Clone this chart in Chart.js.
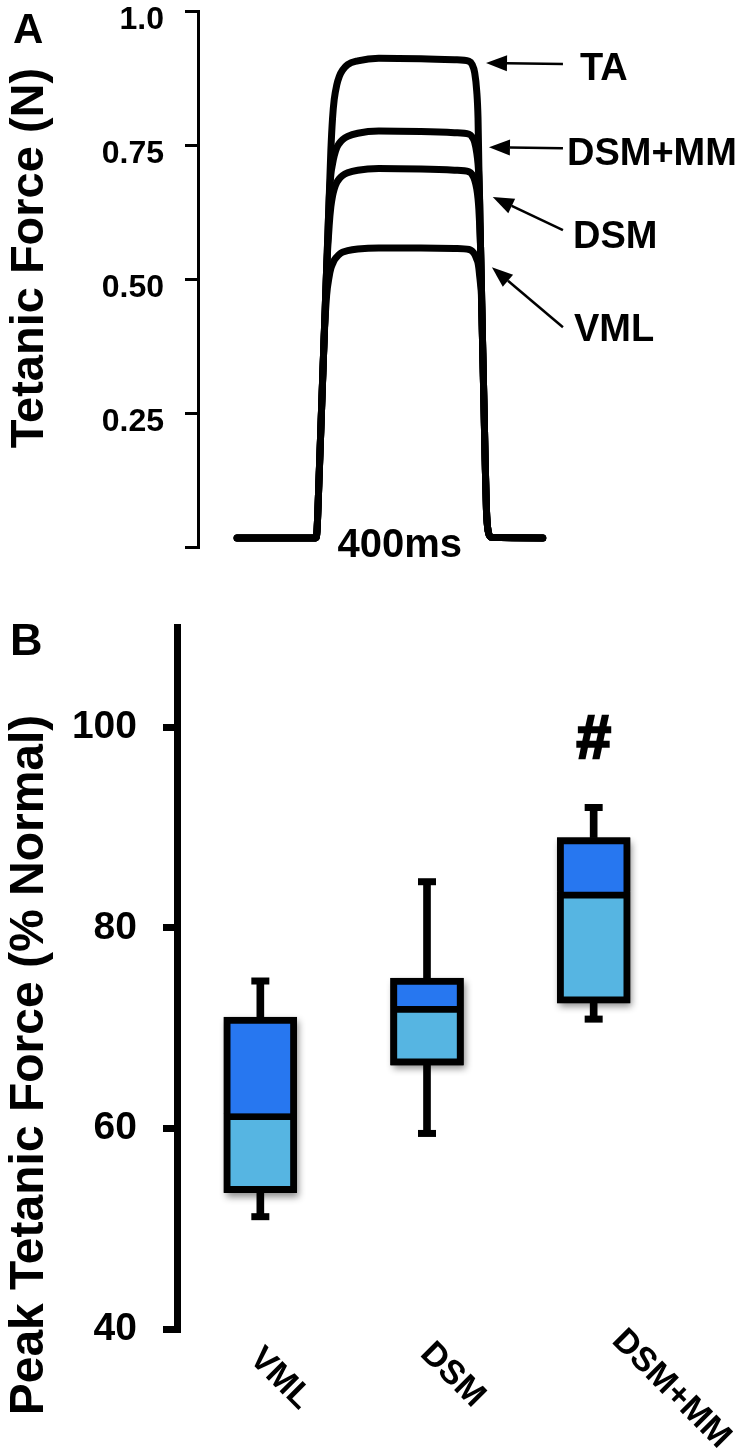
<!DOCTYPE html>
<html>
<head>
<meta charset="utf-8">
<title>Tetanic force</title>
<script src="https://cdn.jsdelivr.net/npm/chart.js@4.4.1/dist/chart.umd.min.js"></script>
<style>
  html, body { margin: 0; padding: 0; background: #fff; }
  #page { position: relative; width: 750px; height: 1456px; overflow: hidden; }
  canvas { position: absolute; left: 0; }
  #chart-traces { top: 0; }
  #chart-peak { top: 580px; }
</style>
</head>
<body>
<div id="page">
  <canvas id="chart-traces" width="750" height="580"></canvas>
  <canvas id="chart-peak" width="750" height="876"></canvas>
</div>
<script>
const FONT = "'Liberation Sans', Arial, Helvetica, sans-serif";
const bold = size => `bold ${size}px ${FONT}`;

// ---- Panel A: force traces (time in ms, force in N) ----
const traceTimes = [-187, 0, 3, 8, 14, 20, 26, 32, 36, 40, 44, 50, 56, 64, 76, 100, 150, 250, 330, 365,
  372, 378, 383, 386, 388, 390, 392, 394, 396, 398, 400, 403, 406, 410, 418, 540];
const forceTA = [0.017, 0.017, 0.03, 0.13, 0.26, 0.39, 0.52, 0.65, 0.74, 0.80, 0.835, 0.862, 0.878, 0.89, 0.90, 0.907, 0.912, 0.911, 0.909, 0.906,
  0.90, 0.885, 0.85, 0.80, 0.71, 0.64, 0.56, 0.49, 0.41, 0.34, 0.27, 0.16, 0.07, 0.03, 0.018, 0.017];
const forceDSMMM = [0.017, 0.017, 0.03, 0.13, 0.26, 0.39, 0.52, 0.65, 0.695, 0.715, 0.73, 0.745, 0.753, 0.76, 0.766, 0.772, 0.776, 0.775, 0.773, 0.77,
  0.765, 0.755, 0.735, 0.715, 0.69, 0.64, 0.56, 0.49, 0.41, 0.34, 0.27, 0.16, 0.07, 0.03, 0.018, 0.017];
const forceDSM = [0.017, 0.017, 0.03, 0.13, 0.26, 0.39, 0.52, 0.60, 0.635, 0.655, 0.668, 0.68, 0.687, 0.693, 0.698, 0.703, 0.706, 0.705, 0.703, 0.70,
  0.695, 0.685, 0.668, 0.65, 0.63, 0.60, 0.56, 0.49, 0.41, 0.34, 0.27, 0.16, 0.07, 0.03, 0.018, 0.017];
const forceVML = [0.017, 0.017, 0.03, 0.13, 0.26, 0.39, 0.47, 0.505, 0.52, 0.528, 0.535, 0.541, 0.546, 0.55, 0.553, 0.556, 0.558, 0.558, 0.557, 0.555,
  0.552, 0.546, 0.537, 0.53, 0.52, 0.505, 0.49, 0.47, 0.41, 0.34, 0.27, 0.16, 0.07, 0.03, 0.018, 0.017];
const traceNames = ["TA", "DSM+MM", "DSM", "VML"];
const forceTicks = [0, 0.25, 0.5, 0.75, 1.0];
const forceTickLabels = ["", "0.25", "0.50", "0.75", "1.0"];
const stimLabel = "400ms";
const stimMid = 200;

// ---- Panel B: peak tetanic force (% of normal) ----
const groups = ["VML", "DSM", "DSM+MM"];
const whiskerLow = [51.2, 59.5, 70.9];
const quartile1 = [53.6, 66.3, 72.5];
const medians = [61.5, 72.2, 83.6];
const quartile3 = [71.1, 75.0, 89.0];
const whiskerHigh = [74.7, 84.6, 92.0];
const peakTicks = [40, 60, 80, 100];
const sigMark = "#";
const sigGroup = 2;
const sigLevel = 99.1;

const DARK_BLUE = "#2777f0";
const LIGHT_BLUE = "#56b5e2";

Chart.defaults.font.family = FONT;
Chart.defaults.font.weight = "bold";
Chart.defaults.color = "#000";

// arrows pointing at the traces, in data units
const arrowNotes = [
  { tip: [405, 0.903], tail: [588, 0.901], dx: 17, dy: 16 },
  { tip: [412, 0.746], tail: [588, 0.744], dx: 4, dy: 17 },
  { tip: [421, 0.653], tail: [588, 0.591], dx: 10, dy: 18 },
  { tip: [419, 0.522], tail: [588, 0.41], dx: 11, dy: 14 }
];

const traceNotes = {
  id: "traceNotes",
  afterDraw(chart) {
    const { ctx, scales: { x, y } } = chart;
    ctx.save();
    ctx.fillStyle = "#000";
    ctx.strokeStyle = "#000";
    ctx.textBaseline = "alphabetic";

    ctx.font = bold(42);
    ctx.textAlign = "left";
    ctx.fillText("A", 13, 43);

    ctx.save();
    ctx.translate(43, 258);
    ctx.rotate(-Math.PI / 2);
    ctx.font = bold(47);
    ctx.textAlign = "center";
    ctx.fillText("Tetanic Force (N)", 0, 0);
    ctx.restore();

    ctx.font = bold(40);
    ctx.textAlign = "center";
    ctx.fillText(stimLabel, x.getPixelForValue(stimMid), y.getPixelForValue(0) + 10);

    ctx.textAlign = "left";
    ctx.font = bold(38);
    arrowNotes.forEach((n, i) => {
      const tx = x.getPixelForValue(n.tip[0]), ty = y.getPixelForValue(n.tip[1]);
      const sx = x.getPixelForValue(n.tail[0]), sy = y.getPixelForValue(n.tail[1]);
      const ang = Math.atan2(ty - sy, tx - sx);
      const bx = tx - 21 * Math.cos(ang), by = ty - 21 * Math.sin(ang);
      ctx.lineWidth = 2.5;
      ctx.beginPath();
      ctx.moveTo(sx, sy);
      ctx.lineTo(bx, by);
      ctx.stroke();
      ctx.beginPath();
      ctx.moveTo(tx, ty);
      ctx.lineTo(bx + 8 * Math.sin(ang), by - 8 * Math.cos(ang));
      ctx.lineTo(bx - 8 * Math.sin(ang), by + 8 * Math.cos(ang));
      ctx.closePath();
      ctx.fill();
      ctx.fillText(traceNames[i], sx + n.dx, sy + n.dy);
    });
    ctx.restore();
  }
};

const traceSeries = [forceTA, forceDSMMM, forceDSM, forceVML];

new Chart(document.getElementById("chart-traces"), {
  type: "line",
  data: {
    datasets: traceSeries.map((vals, i) => ({
      label: traceNames[i],
      data: traceTimes.map((t, k) => ({ x: t, y: vals[k] })),
      borderColor: "#000",
      backgroundColor: "#000",
      borderWidth: 7,
      pointRadius: 0,
      cubicInterpolationMode: "monotone",
      borderCapStyle: "round"
    }))
  },
  options: {
    responsive: false,
    animation: false,
    events: [],
    layout: { padding: { top: 11, right: 182, bottom: 33, left: 0 } },
    plugins: { legend: { display: false }, tooltip: { enabled: false } },
    scales: {
      x: { type: "linear", min: -280, max: 600, display: false },
      y: {
        min: 0,
        max: 1,
        afterBuildTicks: s => { s.ticks = forceTicks.map(v => ({ value: v })); },
        afterFit: s => { s.width = 198; s.paddingTop = 0; s.paddingBottom = 0; },
        ticks: {
          color: "#000",
          padding: 21,
          font: { size: 32, weight: "bold", lineHeight: 0.55 },
          // second line pushes the label a little below its tick, as in the figure
          callback: (v, i) => forceTickLabels[i] ? ["", forceTickLabels[i]] : ""
        },
        grid: { display: true, drawOnChartArea: false, drawTicks: true, tickLength: 13, tickWidth: 3, tickColor: "#000", lineWidth: 3, color: "#000" },
        border: { display: true, color: "#000", width: 3 }
      }
    }
  },
  plugins: [traceNotes]
});

// ---- Panel B ----
const boxShadow = {
  id: "boxShadow",
  beforeDatasetsDraw(chart) {
    const upper = chart.getDatasetMeta(0).data;
    const lower = chart.getDatasetMeta(1).data;
    const ctx = chart.ctx;
    ctx.save();
    ctx.shadowColor = "rgba(0,0,0,0.45)";
    ctx.shadowBlur = 7;
    ctx.shadowOffsetX = 2;
    ctx.shadowOffsetY = 4;
    ctx.fillStyle = "#000";
    upper.forEach((bar, i) => {
      const top = Math.min(bar.y, bar.base);
      const bottom = Math.max(lower[i].y, lower[i].base);
      ctx.fillRect(bar.x - bar.width / 2, top, bar.width, bottom - top);
    });
    ctx.restore();
  }
};

const labelNudge = [[-12, 31], [-8, 26], [17, 13]];

const peakNotes = {
  id: "peakNotes",
  afterDraw(chart) {
    const { ctx, scales: { x, y }, chartArea } = chart;
    ctx.save();
    ctx.fillStyle = "#000";
    ctx.strokeStyle = "#000";
    ctx.textBaseline = "alphabetic";

    ctx.font = bold(45);
    ctx.textAlign = "left";
    ctx.fillText("B", 10, 75);

    ctx.save();
    ctx.translate(43, 485);
    ctx.rotate(-Math.PI / 2);
    ctx.font = bold(48);
    ctx.textAlign = "center";
    ctx.fillText("Peak Tetanic Force (% Normal)", 0, 0);
    ctx.restore();

    // heavier hash mark, as in the figure
    ctx.font = bold(62);
    ctx.textAlign = "center";
    ctx.lineWidth = 2.5;
    const sx = x.getPixelForValue(sigGroup), sy = y.getPixelForValue(sigLevel) + 0.35 * 62;
    ctx.fillText(sigMark, sx, sy);
    ctx.strokeText(sigMark, sx, sy);

    ctx.font = bold(34);
    ctx.textAlign = "left";
    groups.forEach((g, i) => {
      ctx.save();
      ctx.translate(x.getPixelForValue(i) + labelNudge[i][0], chartArea.bottom + labelNudge[i][1]);
      ctx.rotate(Math.PI / 4);
      ctx.fillText(g, 0, 0);
      ctx.restore();
    });
    ctx.restore();
  }
};

new Chart(document.getElementById("chart-peak"), {
  type: "bar",
  data: {
    labels: groups,
    datasets: [
      {
        label: "median to Q3",
        data: groups.map((g, i) => [medians[i], quartile3[i]]),
        backgroundColor: DARK_BLUE,
        borderColor: "#000",
        borderWidth: { top: 7, left: 7, right: 7, bottom: 0 },
        borderSkipped: false,
        barThickness: 73,
        grouped: false
      },
      {
        label: "Q1 to median",
        data: groups.map((g, i) => [quartile1[i], medians[i]]),
        backgroundColor: LIGHT_BLUE,
        borderColor: "#000",
        borderWidth: 7,
        borderSkipped: false,
        barThickness: 73,
        grouped: false
      },
      {
        label: "upper whisker",
        data: groups.map((g, i) => [quartile3[i], whiskerHigh[i]]),
        backgroundColor: "#000",
        borderWidth: 0,
        barThickness: 7,
        grouped: false
      },
      {
        label: "lower whisker",
        data: groups.map((g, i) => [whiskerLow[i], quartile1[i]]),
        backgroundColor: "#000",
        borderWidth: 0,
        barThickness: 7,
        grouped: false
      },
      {
        type: "line",
        label: "max",
        data: whiskerHigh,
        showLine: false,
        pointStyle: "line",
        pointRadius: 9,
        pointBorderWidth: 7,
        borderColor: "#000",
        backgroundColor: "#000"
      },
      {
        type: "line",
        label: "min",
        data: whiskerLow,
        showLine: false,
        pointStyle: "line",
        pointRadius: 9,
        pointBorderWidth: 7,
        borderColor: "#000",
        backgroundColor: "#000"
      }
    ]
  },
  options: {
    responsive: false,
    animation: false,
    events: [],
    layout: { padding: { top: 47, right: 73, bottom: 127, left: 0 } },
    plugins: { legend: { display: false }, tooltip: { enabled: false } },
    scales: {
      x: { type: "category", display: false },
      y: {
        min: 40,
        max: 110,
        afterBuildTicks: s => { s.ticks = peakTicks.map(v => ({ value: v })); },
        afterFit: s => { s.width = 177; s.paddingTop = 0; s.paddingBottom = 0; },
        ticks: { color: "#000", padding: 26, font: { size: 39, weight: "bold" } },
        grid: { display: true, drawOnChartArea: false, drawTicks: true, tickLength: 14, tickWidth: 7, tickColor: "#000", lineWidth: 7, color: "#000" },
        border: { display: true, color: "#000", width: 7 }
      }
    }
  },
  plugins: [boxShadow, peakNotes]
});
</script>
</body>
</html>
